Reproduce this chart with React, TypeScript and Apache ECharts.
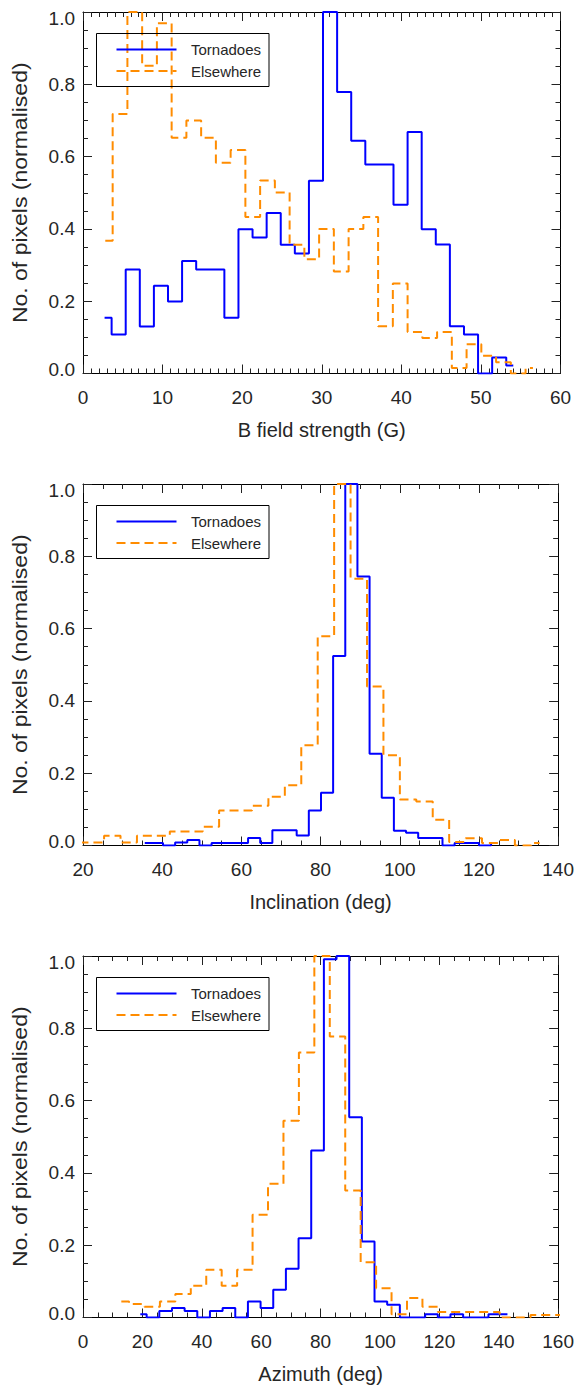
import React, { useEffect, useRef } from "react";
import * as echarts from "echarts";

// ---------- data ----------
// Panel 1: B field strength (G)
const bfTornadoStart = 2.71;
const bfTornadoWidth = 1.771;
const bfTornado = [0.154, 0.108, 0.288, 0.13, 0.243, 0.199, 0.311, 0.288, 0.288, 0.154, 0.399, 0.376, 0.444, 0.356, 0.332, 0.533, 1.0, 0.779, 0.644, 0.578, 0.578, 0.467, 0.668, 0.399, 0.357, 0.131, 0.108, 0, 0.044, 0.022];
const bfElseStart = 2.8;
const bfElseWidth = 1.853;
const bfElse = [0.367, 0.718, 1.0, 0.851, 0.969, 0.652, 0.7, 0.652, 0.583, 0.618, 0.433, 0.534, 0.501, 0.356, 0.316, 0.4, 0.282, 0.4, 0.433, 0.131, 0.249, 0.115, 0.098, 0.115, 0.015, 0.081, 0.049, 0.031, 0, 0.015];

// Panel 2: Inclination (deg)
const incTornadoStart = 35.6;
const incTornadoWidth = 3.069;
const incTornado = [0.007, 0.007, 0, 0.008, 0.015, 0, 0.007, 0.007, 0.007, 0.021, 0.007, 0.042, 0.042, 0.028, 0.097, 0.146, 0.524, 1.0, 0.744, 0.254, 0.132, 0.041, 0.035, 0.021, 0.021, 0, 0.007, 0.007, 0, 0.007];
const incElseStart = 19.1;
const incElseWidth = 4.15;
const incElse = [0.008, 0.008, 0.027, 0.008, 0.027, 0.027, 0.039, 0.039, 0.052, 0.097, 0.097, 0.11, 0.135, 0.167, 0.277, 0.579, 1.0, 0.738, 0.44, 0.25, 0.127, 0.122, 0.071, 0.01, 0.02, 0.007, 0.015, 0, 0.007];

// Panel 3: Azimuth (deg)
const azTornadoStart = 19.3;
const azTornadoWidth = 4.263;
const azTornado = [0.009, 0, 0.018, 0.026, 0.018, 0, 0.018, 0.026, 0, 0.044, 0.026, 0.077, 0.135, 0.219, 0.462, 0.991, 1.0, 0.554, 0.21, 0.044, 0.035, 0, 0, 0.009, 0, 0.009, 0, 0, 0.009, 0.009];
const azElseStart = 12.9;
const azElseWidth = 5.2;
const azElse = [0.044, 0.037, 0.03, 0.044, 0.065, 0.088, 0.132, 0.088, 0.132, 0.284, 0.37, 0.544, 0.733, 1.0, 0.777, 0.351, 0.153, 0.081, 0.009, 0.054, 0.03, 0.015, 0.015, 0.015, 0.015, 0, 0, 0.007, 0.007, 0.007];

const xTitles = ["B field strength (G)", "Inclination (deg)", "Azimuth (deg)"];
const xMins = [0, 20, 0];
const xMaxs = [60, 140, 160];
const xIntervals = [10, 20, 20];
const xMinorSplits = [10, 4, 4];
const yTitle = "No. of pixels (normalised)";
const legendNames = ["Tornadoes", "Elsewhere"];

// ---------- styling ----------
const BLUE = "#0000ff";
const ORANGE = "#ff8c00";
const FONT = "'Liberation Sans', Arial, Helvetica, sans-serif";
const TEXT = "#262626";
const GRID_LEFT = 83;
const GRID_W = 477.5;
const GRID_H = 361.5;
const GRID_TOPS = [12, 484, 956];

function bins(start: number, width: number, vals: number[]) {
  return vals.map((v, i) => [start + i * width, v]);
}

export default function App() {
  const ref = useRef<HTMLDivElement>(null);
  useEffect(() => {
    const chart = echarts.init(ref.current!, null, { renderer: "svg" });
    const panels = [
      [bins(bfTornadoStart, bfTornadoWidth, bfTornado), bins(bfElseStart, bfElseWidth, bfElse)],
      [bins(incTornadoStart, incTornadoWidth, incTornado), bins(incElseStart, incElseWidth, incElse)],
      [bins(azTornadoStart, azTornadoWidth, azTornado), bins(azElseStart, azElseWidth, azElse)],
    ];
    const grids: any[] = [];
    const xAxes: any[] = [];
    const yAxes: any[] = [];
    const series: any[] = [];
    const graphics: any[] = [];
    const tick = { show: true, inside: true, length: 9, lineStyle: { color: "#222", width: 1 } };
    const minor = (n: number) => ({ show: true, splitNumber: n, length: 5, lineStyle: { color: "#222", width: 1 } });
    const line = { show: true, onZero: false, lineStyle: { color: "#000", width: 1 } };
    for (let i = 0; i < 3; i++) {
      const T = GRID_TOPS[i];
      grids.push({ left: GRID_LEFT, top: T, width: GRID_W, height: GRID_H, containLabel: false });
      const xBase = {
        gridIndex: i, type: "value", min: xMins[i], max: xMaxs[i], interval: xIntervals[i],
        axisLine: line, axisTick: tick, minorTick: minor(xMinorSplits[i]),
        splitLine: { show: false }, minorSplitLine: { show: false },
      };
      xAxes.push({
        ...xBase, position: "bottom",
        axisLabel: { show: true, margin: 14, fontSize: 19, color: TEXT, fontFamily: FONT },
        name: xTitles[i], nameLocation: "middle", nameGap: 46,
        nameTextStyle: { fontSize: 20, color: TEXT, fontFamily: FONT },
      });
      xAxes.push({ ...xBase, position: "top", axisLabel: { show: false } });
      const yBase = {
        gridIndex: i, type: "value", min: 0, max: 1, interval: 0.2,
        axisLine: line, axisTick: tick, minorTick: minor(4),
        splitLine: { show: false }, minorSplitLine: { show: false },
      };
      yAxes.push({
        ...yBase, position: "left",
        axisLabel: {
          show: true, margin: 8, fontSize: 19, color: TEXT, fontFamily: FONT,
          formatter: (v: number) => {
            const s = v.toFixed(1);
            if (v < 0.001) return `{lo|${s}}`;
            if (v > 0.999) return `{hi|${s}}`;
            return s;
          },
          rich: {
            lo: { fontSize: 19, color: TEXT, fontFamily: FONT, padding: [0, 0, 8, 0] },
            hi: { fontSize: 19, color: TEXT, fontFamily: FONT, padding: [12, 0, 0, 0] },
          },
        },
      });
      yAxes.push({ ...yBase, position: "right", axisLabel: { show: false } });

      series.push({
        type: "line", name: legendNames[0], xAxisIndex: 2 * i, yAxisIndex: 2 * i,
        data: panels[i][0], step: "middle", showSymbol: false, symbol: "none", clip: true, silent: true,
        lineStyle: { color: BLUE, width: 2 }, z: 3,
      });
      series.push({
        type: "line", name: legendNames[1], xAxisIndex: 2 * i, yAxisIndex: 2 * i,
        data: panels[i][1], step: "middle", showSymbol: false, symbol: "none", clip: true, silent: true,
        lineStyle: { color: ORANGE, width: 2, type: [9, 5] }, z: 4,
      });

      graphics.push(
        {
          type: "text", z: 10, x: 20, y: T + GRID_H / 2, rotation: Math.PI / 2, scaleX: 1.15, scaleY: 1,
          style: { text: yTitle, fill: TEXT, fontSize: 20, fontFamily: FONT, align: "center", verticalAlign: "middle" },
        },
        { type: "rect", z: 10, shape: { x: 96.5, y: T + 21.5, width: 172.5, height: 53 }, style: { fill: "none", stroke: "#000", lineWidth: 1 } },
        { type: "line", z: 10, shape: { x1: 116.5, y1: T + 37.5, x2: 176.5, y2: T + 37.5 }, style: { stroke: BLUE, lineWidth: 2 } },
        { type: "line", z: 10, shape: { x1: 116.5, y1: T + 59, x2: 176.5, y2: T + 59 }, style: { stroke: ORANGE, lineWidth: 2, lineDash: [9, 5] } },
        { type: "text", z: 10, x: 191, y: T + 37.5, style: { text: legendNames[0], fill: TEXT, fontSize: 15, fontFamily: FONT, verticalAlign: "middle" } },
        { type: "text", z: 10, x: 191, y: T + 59, style: { text: legendNames[1], fill: TEXT, fontSize: 15, fontFamily: FONT, verticalAlign: "middle" } },
      );
    }
    chart.setOption({
      animation: false,
      backgroundColor: "#fff",
      grid: grids,
      xAxis: xAxes,
      yAxis: yAxes,
      series,
      graphic: { elements: graphics },
    });
    return () => chart.dispose();
  }, []);
  return <div ref={ref} style={{ position: "absolute", left: 0, top: 0, width: 577, height: 1389, background: "#fff" }} />;
}
